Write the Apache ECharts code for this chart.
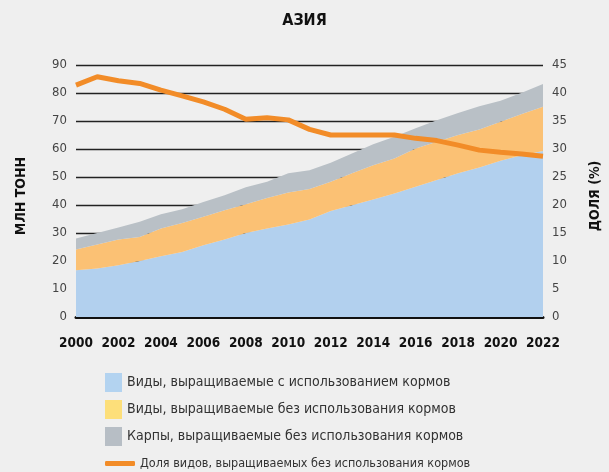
<!DOCTYPE html>
<html>
<head>
    <meta charset="utf-8">
    <title>Азия</title>
    <script src="https://cdn.jsdelivr.net/npm/echarts@6/dist/echarts.min.js"></script>
    <style>
        body { margin: 0; background: #efefef; }
        #chart { width: 609px; height: 472px; }
    </style>
</head>
<body>
    <div id="chart"></div>
    <script>
        var years = ['2000','2001','2002','2003','2004','2005','2006','2007','2008','2009','2010','2011',
                     '2012','2013','2014','2015','2016','2017','2018','2019','2020','2021','2022'];
        // млн тонн
        var fedSpecies = [16.7,17.3,18.5,20.0,21.7,23.2,25.6,27.7,30.0,31.6,33.0,34.8,37.9,39.9,42.0,44.1,46.5,48.9,51.3,53.4,55.8,57.8,59.3];
        var nonFedSpecies = [7.4,8.6,9.2,8.6,9.9,10.4,10.2,10.4,10.3,10.9,11.5,10.9,10.4,11.4,12.2,12.5,13.7,13.7,13.7,13.6,13.9,14.7,15.8];
        var nonFedCarps = [3.9,4.1,4.3,5.4,5.1,4.9,5.3,5.4,6.0,5.8,6.8,6.7,6.8,7.1,7.5,7.8,7.2,7.7,7.9,8.3,7.5,7.6,8.1];
        // доля, %
        var nonFedShare = [41.4,42.9,42.2,41.7,40.5,39.5,38.4,37.1,35.3,35.6,35.2,33.5,32.5,32.5,32.5,32.5,31.9,31.5,30.7,29.8,29.4,29.1,28.7];

        var names = [
            'Виды, выращиваемые с использованием кормов',
            'Виды, выращиваемые без использования кормов',
            'Карпы, выращиваемые без использования кормов',
            'Доля видов, выращиваемых без использования кормов'
        ];

        var font = '"DejaVu Sans Condensed", "Liberation Sans Narrow", sans-serif';

        var chart = echarts.init(document.getElementById('chart'));

        var area = function(name, data, color){
            return {
                name: name,
                type: 'line',
                stack: 'prod',
                data: data,
                symbol: 'none',
                lineStyle: { width: 0 },
                areaStyle: { color: color, opacity: 1 },
                itemStyle: { color: color }
            };
        };

        var axisName = function(text, x){
            return {
                type: 'text',
                x: x,
                y: 196,
                rotation: Math.PI / 2,
                style: {
                    text: text,
                    fontFamily: font,
                    fontSize: 14,
                    fontWeight: 'bold',
                    fill: '#111',
                    textAlign: 'center',
                    textVerticalAlign: 'middle'
                }
            };
        };

        chart.setOption({
            backgroundColor: '#efefef',
            animation: false,
            title: {
                text: 'АЗИЯ',
                left: 'center',
                top: 8,
                textStyle: { fontFamily: font, fontSize: 16, fontWeight: 'bold', color: '#111' }
            },
            graphic: [axisName('МЛН ТОНН', 21), axisName('ДОЛЯ (%)', 595)],
            grid: { left: 76, right: 66, top: 65, bottom: 155 },
            legend: [{
                orient: 'vertical',
                left: 100,
                top: 368,
                itemWidth: 17,
                itemHeight: 19,
                itemGap: 8,
                icon: 'rect',
                textStyle: { fontFamily: font, fontSize: 14, color: '#333' },
                data: [
                    { name: names[0], itemStyle: { color: '#b3d3f0' } },
                    { name: names[1], itemStyle: { color: '#fddf7a' } },
                    { name: names[2], itemStyle: { color: '#b7bec5' } }
                ]
            }, {
                left: 100,
                top: 452,
                itemWidth: 30,
                itemHeight: 5,
                itemGap: 8,
                icon: 'roundRect',
                textStyle: { fontFamily: font, fontSize: 12.5, color: '#333' },
                data: [names[3]]
            }],
            xAxis: {
                type: 'category',
                data: years,
                boundaryGap: false,
                axisTick: { show: false },
                axisLine: { lineStyle: { color: '#111', width: 3 } },
                axisLabel: {
                    interval: 1,
                    margin: 19,
                    fontFamily: font,
                    fontSize: 13.5,
                    fontWeight: 'bold',
                    color: '#111'
                }
            },
            yAxis: [{
                type: 'value',
                min: 0,
                max: 90,
                interval: 10,
                axisLine: { show: false },
                axisTick: { show: false },
                axisLabel: { fontFamily: font, fontSize: 13, color: '#444', margin: 9 },
                splitLine: { lineStyle: { color: '#222', width: 1.3 } }
            }, {
                type: 'value',
                min: 0,
                max: 45,
                interval: 5,
                axisLine: { show: false },
                axisTick: { show: false },
                axisLabel: { fontFamily: font, fontSize: 13, color: '#444', margin: 9 },
                splitLine: { show: false }
            }],
            series: [
                area(names[0], fedSpecies, '#b2d0ee'),
                area(names[1], nonFedSpecies, '#fbc174'),
                area(names[2], nonFedCarps, '#b9c0c6'),
                {
                    name: names[3],
                    type: 'line',
                    yAxisIndex: 1,
                    data: nonFedShare,
                    symbol: 'none',
                    lineStyle: { color: '#f28c28', width: 5 },
                    itemStyle: { color: '#f28c28' },
                    z: 5
                }
            ]
        });
    </script>
</body>
</html>
